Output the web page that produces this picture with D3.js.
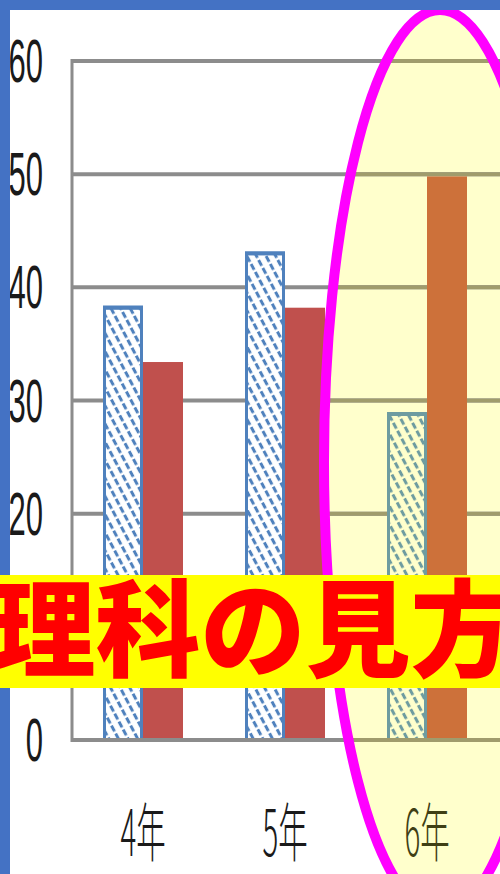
<!DOCTYPE html>
<html><head><meta charset="utf-8">
<script src="https://cdn.jsdelivr.net/npm/d3@7"></script>
<style>html,body{margin:0;padding:0;background:#fff;overflow:hidden}</style>
</head><body>
<svg id="c" width="500" height="874"></svg>
<script>
const categories = ["4年", "5年", "6年"];
const series = ["A", "B"];
const valuesA = [38.3, 43.1, 28.9];
const valuesB = [33.4, 38.2, 49.8];
const yTicks = [0, 10, 20, 30, 40, 50, 60];
const title = "理科の見方";

const svg = d3.select("#c");
const W = 500, H = 874;
svg.append("rect").attr("width", W).attr("height", H).attr("fill", "#fff");

const y = d3.scaleLinear().domain([0, 60]).range([740, 61]);
const x0 = d3.scaleBand().domain(categories).range([72, 498]).padding(0);
const x1 = d3.scaleBand().domain(series).range([31, 111]);

const defs = svg.append("defs");
function hatch(id, bg, fg) {
  const p = defs.append("pattern").attr("id", id).attr("patternUnits", "userSpaceOnUse")
    .attr("width", 8.5).attr("height", 9).attr("patternTransform", "rotate(-28)");
  p.append("rect").attr("width", 8.5).attr("height", 9).attr("fill", bg);
  p.append("line").attr("x1", 4.25).attr("y1", 0).attr("x2", 4.25).attr("y2", 9)
    .attr("stroke", fg).attr("stroke-width", 3).attr("stroke-dasharray", "6.5 2.5");
}
hatch("h1", "#ffffff", "#4f81bd");
hatch("h2", "#ffffcc", "#6e9ca0");

const E = {cx: 440, cy: 462, rx: 116, ry: 452};
defs.append("clipPath").attr("id", "ec").append("ellipse")
  .attr("cx", E.cx).attr("cy", E.cy).attr("rx", E.rx).attr("ry", E.ry);

svg.append("ellipse").attr("cx", E.cx).attr("cy", E.cy).attr("rx", E.rx).attr("ry", E.ry)
  .attr("fill", "#ffffcc");

const grid = svg.append("g");
grid.selectAll("line").data(yTicks).join("line")
  .attr("x1", 72).attr("x2", W).attr("y1", d => y(d)).attr("y2", d => y(d))
  .attr("stroke", "#8c8c8c").attr("stroke-width", 4);
svg.append("g").attr("clip-path", "url(#ec)").selectAll("line").data(yTicks).join("line")
  .attr("x1", 72).attr("x2", W).attr("y1", d => y(d)).attr("y2", d => y(d))
  .attr("stroke", "#a09c6c").attr("stroke-width", 4);
svg.append("line").attr("x1", 72).attr("x2", 72).attr("y1", y(60) - 2).attr("y2", y(0) + 2)
  .attr("stroke", "#8c8c8c").attr("stroke-width", 3);

const data = categories.map((c, i) => ({c, i, a: valuesA[i], b: valuesB[i]}));
const g = svg.append("g");
data.forEach(d => {
  const hi = d.i === 2;
  const xa = x0(d.c) + x1("A");
  g.append("rect").attr("x", xa + 1.5).attr("y", y(d.a) + 1.5)
    .attr("width", x1.bandwidth() - 3).attr("height", y(0) - y(d.a) - 1.5)
    .attr("fill", hi ? "url(#h2)" : "url(#h1)")
    .attr("stroke", hi ? "#6e9ca0" : "#4f81bd").attr("stroke-width", 3);
  g.append("line").attr("x1", xa).attr("x2", xa + x1.bandwidth()).attr("y1", y(d.a) + 1).attr("y2", y(d.a) + 1)
    .attr("stroke", hi ? "#6e9ca0" : "#4f81bd").attr("stroke-width", 4);
  const xb = x0(d.c) + x1("B");
  g.append("rect").attr("x", xb).attr("y", y(d.b))
    .attr("width", x1.bandwidth()).attr("height", y(0) - y(d.b))
    .attr("fill", hi ? "#cd713a" : "#c0504d");
});
svg.append("line").attr("x1", 72).attr("x2", W).attr("y1", y(0)).attr("y2", y(0))
  .attr("stroke", "#8c8c8c").attr("stroke-width", 4);
svg.append("line").attr("clip-path", "url(#ec)").attr("x1", 72).attr("x2", W).attr("y1", y(0)).attr("y2", y(0))
  .attr("stroke", "#a09c6c").attr("stroke-width", 4);

svg.append("g").selectAll("text").data(yTicks).join("text")
  .attr("transform", d => `translate(43,${y(d) + 21}) scale(0.5,1)`)
  .attr("text-anchor", "end")
  .attr("font-family", "Liberation Sans, sans-serif")
  .attr("font-size", 62).attr("fill", "#1a1a1a")
  .text(d => d);

svg.append("g").selectAll("text").data(categories).join("text")
  .attr("transform", d => `translate(${x0(d) + x0.bandwidth() / 2},856) scale(0.46,1)`)
  .attr("text-anchor", "middle")
  .attr("font-family", "Noto Sans CJK JP, sans-serif").attr("font-weight", 300)
  .attr("font-size", 64)
  .attr("fill", (d, i) => i === 2 ? "#3f3f14" : "#1a1a1a")
  .text(d => d);

svg.append("ellipse").attr("cx", E.cx).attr("cy", E.cy).attr("rx", E.rx).attr("ry", E.ry)
  .attr("fill", "none").attr("stroke", "#ff00ff").attr("stroke-width", 10);

svg.append("rect").attr("x", 0).attr("y", 0).attr("width", W).attr("height", 10).attr("fill", "#4472c4");
svg.append("rect").attr("x", 0).attr("y", 0).attr("width", 10).attr("height", H).attr("fill", "#4472c4");

svg.append("rect").attr("x", 0).attr("y", 575).attr("width", W).attr("height", 113).attr("fill", "#ffff00");
svg.append("text").attr("x", 253).attr("y", 668).attr("text-anchor", "middle")
  .attr("font-family", "Noto Sans CJK JP, sans-serif").attr("font-weight", 900)
  .attr("font-size", 105).attr("fill", "#ff0000").text(title);
</script>
</body></html>
